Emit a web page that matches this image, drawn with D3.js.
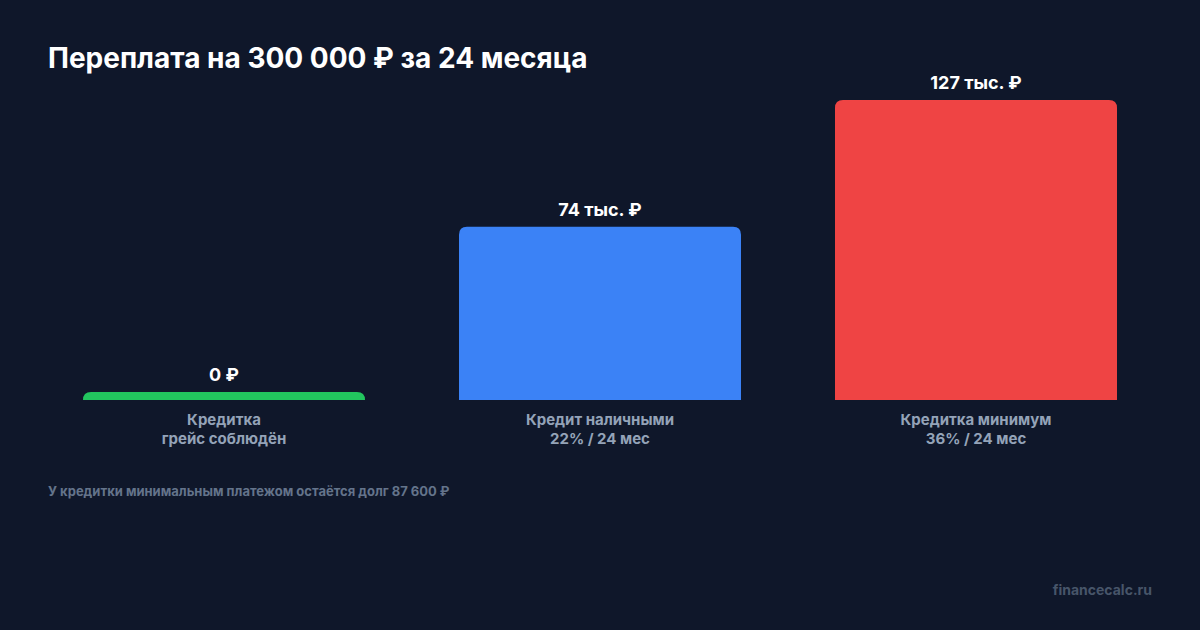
<!DOCTYPE html>
<html>
<head>
<meta charset="utf-8">
<script src="https://cdn.jsdelivr.net/npm/d3@7"></script>
<style>
  html, body { margin: 0; padding: 0; background: #0f172a; }
  svg { display: block; font-family: Inter, "Noto Sans", sans-serif; }
</style>
</head>
<body>
<div id="chart"></div>
<script>
const categories = ["Кредитка|грейс соблюдён", "Кредит наличными|22% / 24 мес", "Кредитка минимум|36% / 24 мес"];
const values = [0, 73.6, 127.4];
const valueLabels = ["0 ₽", "74 тыс. ₽", "127 тыс. ₽"];
const colors = ["#22c55e", "#3b82f6", "#ef4444"];

const W = 1200, H = 630;
const baseY = 400;
const topY = 100;

const svg = d3.select("#chart").append("svg")
    .attr("width", W)
    .attr("height", H);

svg.append("rect").attr("width", W).attr("height", H).attr("fill", "#0f172a");

svg.append("text")
    .attr("x", 48)
    .attr("y", 68)
    .attr("fill", "#ffffff")
    .attr("font-size", 28)
    .attr("font-weight", 700)
    .text("Переплата на 300 000 ₽ за 24 месяца");

const x = d3.scaleBand()
    .domain(categories)
    .range([83, 1117])
    .paddingInner(0.25)
    .paddingOuter(0);

const y = d3.scaleLinear()
    .domain([0, d3.max(values)])
    .range([baseY, topY]);

const minH = 8;
const r = 8;

// rounded top corners only
function barPath(x0, w, top) {
    const h = baseY - top;
    const rr = Math.min(r, h, w / 2);
    return `M${x0},${baseY} L${x0},${top + rr} Q${x0},${top} ${x0 + rr},${top} ` +
        `L${x0 + w - rr},${top} Q${x0 + w},${top} ${x0 + w},${top + rr} L${x0 + w},${baseY} Z`;
}

const data = categories.map((c, i) => ({ c, v: values[i], label: valueLabels[i], color: colors[i] }));

const g = svg.append("g");

g.selectAll(".bar")
    .data(data)
    .join("path")
    .attr("class", "bar")
    .attr("fill", d => d.color)
    .attr("d", d => {
        const top = Math.min(y(d.v), baseY - minH);
        return barPath(x(d.c), x.bandwidth(), top);
    });

g.selectAll(".val")
    .data(data)
    .join("text")
    .attr("class", "val")
    .attr("x", d => x(d.c) + x.bandwidth() / 2)
    .attr("y", d => Math.min(y(d.v), baseY - minH) - 11)
    .attr("text-anchor", "middle")
    .attr("fill", "#ffffff")
    .attr("font-size", 18)
    .attr("font-weight", 700)
    .text(d => d.label);

const cat = g.selectAll(".cat")
    .data(data)
    .join("text")
    .attr("class", "cat")
    .attr("x", d => x(d.c) + x.bandwidth() / 2)
    .attr("y", 425)
    .attr("text-anchor", "middle")
    .attr("fill", "#94a3b8")
    .attr("font-size", 15)
    .attr("font-weight", 700);

cat.selectAll("tspan")
    .data(d => d.c.split("|").map(t => ({ t, xc: x(d.c) + x.bandwidth() / 2 })))
    .join("tspan")
    .attr("x", d => d.xc)
    .attr("dy", (d, i) => i ? 19 : 0)
    .text(d => d.t);

svg.append("text")
    .attr("x", 48)
    .attr("y", 496)
    .attr("fill", "#64748b")
    .attr("font-size", 13)
    .attr("font-weight", 700)
    .text("У кредитки минимальным платежом остаётся долг 87 600 ₽");

svg.append("text")
    .attr("x", 1152)
    .attr("y", 595)
    .attr("text-anchor", "end")
    .attr("fill", "#475569")
    .attr("font-size", 14)
    .attr("font-weight", 700)
    .text("financecalc.ru");
</script>
</body>
</html>
